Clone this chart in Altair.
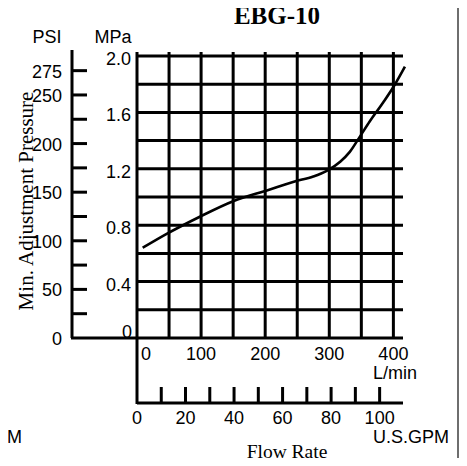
import altair as alt
import pandas as pd

# ---- data ----
title_text = "EBG-10"
y_title = "Min. Adjustment Pressure"
x_title = "Flow Rate"

flow_lpm = [9, 47, 98, 150, 205, 246, 275, 296, 317, 332, 348, 363, 384, 400, 418]
pressure_mpa = [0.64, 0.74, 0.86, 0.97, 1.05, 1.11, 1.145, 1.185, 1.25, 1.32, 1.43, 1.535, 1.67, 1.78, 1.925]

x_grid = [0, 50, 100, 150, 200, 250, 300, 350, 400]
y_grid = [0.0, 0.2, 0.4, 0.6, 0.8, 1.0, 1.2, 1.4, 1.6, 1.8, 2.0]
x_labels = [100, 200, 300, 400]
mpa_labels = [0.4, 0.8, 1.2, 1.6, 2.0]
mpa_label_text = ["0.4", "0.8", "1.2", "1.6", "2.0"]
psi_ticks = [25, 50, 75, 100, 125, 150, 175, 200, 225, 250, 275]
psi_labels = [0, 50, 100, 150, 200, 250, 275]
gpm_ticks = [10, 20, 30, 40, 50, 60, 70, 80, 90, 100]
gpm_labels = [0, 20, 40, 60, 80, 100]

PSI_PER_MPA = 145.038
LPM_PER_GPM = 3.78541

W, H = 266, 282
SANS = "Liberation Sans"
SERIF = "Liberation Serif"

xs = alt.Scale(domain=[0, 415], nice=False, zero=False)
ys = alt.Scale(domain=[0, 2.0], nice=False, zero=False)


def one(t):
    return alt.Chart(pd.DataFrame({"t": [t]}))


curve_df = pd.DataFrame({"flow": flow_lpm, "mpa": pressure_mpa})

vgrid = alt.Chart(pd.DataFrame({"x": x_grid})).mark_rule(color="black", strokeWidth=3).encode(
    x=alt.X("x:Q", scale=xs, axis=None), y=alt.value(-4), y2=alt.value(H)
)
hgrid = alt.Chart(pd.DataFrame({"y": y_grid})).mark_rule(color="black", strokeWidth=3).encode(
    y=alt.Y("y:Q", scale=ys, axis=None), x=alt.value(0), x2=alt.value(W)
)
base_ext = one("a").mark_rule(color="black", strokeWidth=3).encode(
    x=alt.value(-66), x2=alt.value(0), y=alt.value(H)
)
psi_axis = one("a").mark_rule(color="black", strokeWidth=3).encode(
    x=alt.value(-65), y=alt.value(-6), y2=alt.value(H)
)
psi_tick = alt.Chart(pd.DataFrame({"psi": psi_ticks})).transform_calculate(
    mpa=f"datum.psi / {PSI_PER_MPA}"
).mark_rule(color="black", strokeWidth=3).encode(
    y=alt.Y("mpa:Q", scale=ys, axis=None), x=alt.value(-66), x2=alt.value(-50)
)
psi_text = alt.Chart(pd.DataFrame({"psi": psi_labels})).transform_calculate(
    mpa=f"datum.psi / {PSI_PER_MPA}"
).mark_text(font=SANS, fontSize=18, align="right", baseline="middle", dy=2, color="black").encode(
    y=alt.Y("mpa:Q", scale=ys, axis=None), x=alt.value(-75), text="psi:Q"
)
mpa_text = alt.Chart(pd.DataFrame({"v": mpa_labels, "t": mpa_label_text})).mark_text(
    font=SANS, fontSize=18, align="right", baseline="middle", dy=4, color="black"
).encode(y=alt.Y("v:Q", scale=ys, axis=None), x=alt.value(-6), text="t:N")
mpa_zero = one("0").mark_text(font=SANS, fontSize=18, align="right", baseline="alphabetic", color="black").encode(
    x=alt.value(-5), y=alt.value(H), text="t:N"
)
x_text = alt.Chart(pd.DataFrame({"x": x_labels})).mark_text(
    font=SANS, fontSize=18, align="center", baseline="middle", color="black"
).encode(x=alt.X("x:Q", scale=xs, axis=None), y=alt.value(299), text="x:Q")
x_zero = one("0").mark_text(font=SANS, fontSize=18, align="left", baseline="middle", color="black").encode(
    x=alt.value(4), y=alt.value(299), text="t:N"
)
gpm_vert = one("a").mark_rule(color="black", strokeWidth=3).encode(
    x=alt.value(0), y=alt.value(H), y2=alt.value(348)
)
gpm_axis = one("a").mark_rule(color="black", strokeWidth=3).encode(
    x=alt.value(0), x2=alt.value(W), y=alt.value(347)
)
gpm_tick = alt.Chart(pd.DataFrame({"g": gpm_ticks})).transform_calculate(
    lpm=f"datum.g * {LPM_PER_GPM}"
).mark_rule(color="black", strokeWidth=3).encode(
    x=alt.X("lpm:Q", scale=xs, axis=None), y=alt.value(331), y2=alt.value(347)
)
gpm_text = alt.Chart(pd.DataFrame({"g": gpm_labels})).transform_calculate(
    lpm=f"datum.g * {LPM_PER_GPM}"
).mark_text(font=SANS, fontSize=18, align="center", baseline="middle", color="black").encode(
    x=alt.X("lpm:Q", scale=xs, axis=None), y=alt.value(363), text="g:Q"
)
curve = alt.Chart(curve_df).mark_line(color="black", strokeWidth=2.6, interpolate="monotone", clip=False).encode(
    x=alt.X("flow:Q", scale=xs, axis=None), y=alt.Y("mpa:Q", scale=ys, axis=None)
)

title = one(title_text).mark_text(font=SERIF, fontSize=25, fontWeight="bold", align="center",
                                  baseline="alphabetic", color="black").encode(
    x=alt.value(140), y=alt.value(-32), text="t:N")
psi_unit = one("PSI").mark_text(font=SANS, fontSize=18, align="center", baseline="alphabetic", color="black").encode(
    x=alt.value(-90), y=alt.value(-13), text="t:N")
mpa_unit = one("MPa").mark_text(font=SANS, fontSize=18, align="center", baseline="alphabetic", color="black").encode(
    x=alt.value(-24), y=alt.value(-13), text="t:N")
lpm_unit = one("L/min").mark_text(font=SANS, fontSize=18, align="left", baseline="alphabetic", color="black").encode(
    x=alt.value(236), y=alt.value(323), text="t:N")
gpm_unit = one("U.S.GPM").mark_text(font=SANS, fontSize=18, align="left", baseline="alphabetic", color="black").encode(
    x=alt.value(236), y=alt.value(387), text="t:N")
gpm_frag = one("U.S.GPM").mark_text(font=SANS, fontSize=18, align="right", baseline="alphabetic", color="black").encode(
    x=alt.value(-115), y=alt.value(387), text="t:N")
flow_title = one(x_title).mark_text(font=SERIF, fontSize=19.5, align="center", baseline="alphabetic", color="black").encode(
    x=alt.value(150), y=alt.value(402), text="t:N")
ytitle = one(y_title).mark_text(font=SERIF, fontSize=21, align="center", baseline="alphabetic", angle=270,
                                color="black").encode(
    x=alt.value(-104), y=alt.value(145), text="t:N")
border = one("a").mark_rule(color="#6e6e6e", strokeWidth=2).encode(
    x=alt.value(321), y=alt.value(-48), y2=alt.value(402))

chart = alt.layer(
    vgrid, hgrid, base_ext, psi_axis, psi_tick, psi_text, mpa_text, mpa_zero, x_text, x_zero,
    gpm_vert, gpm_axis, gpm_tick, gpm_text, curve,
    title, psi_unit, mpa_unit, lpm_unit, gpm_unit, gpm_frag, flow_title, ytitle, border,
).properties(
    width=W, height=H,
    autosize=alt.AutoSizeParams(type="none"),
    padding={"left": 129, "top": 48, "right": 56, "bottom": 120},
    background="white",
).configure_view(stroke=None)

chart.save("out.html", embed_options={"renderer": "svg", "actions": False})
